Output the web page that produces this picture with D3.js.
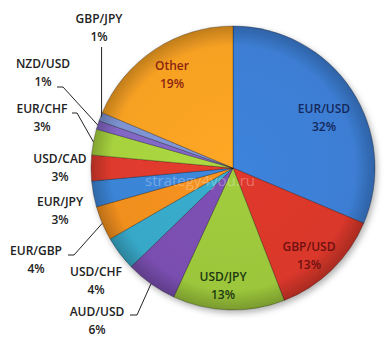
<!DOCTYPE html>
<html>
<head>
<meta charset="utf-8">
<script src="https://cdn.jsdelivr.net/npm/d3@7"></script>
<style>
  body { margin: 0; background: #fff; }
  svg { display: block; }
</style>
</head>
<body>
<div id="chart"></div>
<script>
const WIDTH = 389;
const HEIGHT = 352;
const CX = 233;
const CY = 168;
const RADIUS = 142;

// data
const pairs = ["EUR/USD", "GBP/USD", "USD/JPY", "AUD/USD", "USD/CHF", "EUR/GBP",
  "EUR/JPY", "USD/CAD", "EUR/CHF", "NZD/USD", "GBP/JPY", "Other"];
const shares = [32, 13, 13, 6, 4, 4, 3, 3, 3, 1, 1, 19];
const colors = ["#3c7ed4", "#d9372b", "#9cc63b", "#7a4eb0", "#37a8c8", "#f08f1f",
  "#3b84d6", "#de3a2d", "#a7d23e", "#8266c4", "#7d93d2", "#f7a124"];

// label layout: x centre, first baseline, inside flag, elbow for leader
const labelLayout = [
  { x: 324, y: 113, inside: true, fill: "#15285a" },
  { x: 309, y: 251, inside: true, fill: "#6e1010" },
  { x: 223, y: 281, inside: true, fill: "#1b3810" },
  { x: 97, y: 316, elbow: [137, 315], end: [130, 315] },
  { x: 96, y: 276 },
  { x: 36, y: 255, elbow: [74, 255], end: [68, 255] },
  { x: 60, y: 206 },
  { x: 60, y: 163 },
  { x: 42, y: 113, elbow: [77, 113], end: [72, 113] },
  { x: 43, y: 68, elbow: [63, 87], end: [57, 87] },
  { x: 99, y: 23, vertical: true },
  { x: 172, y: 70, inside: true, fill: "#8a2410" }
];

const svg = d3.select("#chart")
  .append("svg")
  .attr("width", WIDTH)
  .attr("height", HEIGHT);

const defs = svg.append("defs");

const shadow = defs.append("filter")
  .attr("id", "shadow")
  .attr("x", "-20%").attr("y", "-20%")
  .attr("width", "140%").attr("height", "140%");
shadow.append("feDropShadow")
  .attr("dx", 2).attr("dy", 3)
  .attr("stdDeviation", 3)
  .attr("flood-color", "#000")
  .attr("flood-opacity", 0.3);

colors.forEach((c, i) => {
  const g = defs.append("radialGradient")
    .attr("id", "grad" + i)
    .attr("gradientUnits", "userSpaceOnUse")
    .attr("cx", 0).attr("cy", 0).attr("r", RADIUS);
  g.append("stop").attr("offset", "0%").attr("stop-color", d3.color(c).brighter(0.1));
  g.append("stop").attr("offset", "86%").attr("stop-color", c);
  g.append("stop").attr("offset", "100%").attr("stop-color", d3.color(c).darker(0.7));
});

const pie = d3.pie().sort(null).value(d => d);
const arcs = pie(shares);

const arc = d3.arc().innerRadius(0).outerRadius(RADIUS);
const rimArc = d3.arc().innerRadius(RADIUS).outerRadius(RADIUS);

const chart = svg.append("g")
  .attr("transform", `translate(${CX}, ${CY})`);

chart.append("g")
  .attr("filter", "url(#shadow)")
  .selectAll("path")
  .data(arcs)
  .enter()
  .append("path")
  .attr("d", arc)
  .attr("fill", (d, i) => `url(#grad${i})`)
  .attr("stroke", "rgba(0,0,0,0.35)")
  .attr("stroke-width", 0.8);

// watermark
svg.append("text")
  .attr("x", 200)
  .attr("y", 186)
  .attr("text-anchor", "middle")
  .style("font-family", "'Open Sans', sans-serif")
  .style("font-size", "15px")
  .style("fill", "rgba(255,255,255,0.3)")
  .text("strategy4you.ru");

// leader lines
arcs.forEach((d, i) => {
  const lay = labelLayout[i];
  if (lay.inside) return;
  if (!lay.elbow && !lay.vertical) return;
  const p = rimArc.centroid({ startAngle: (d.startAngle + d.endAngle) / 2, endAngle: (d.startAngle + d.endAngle) / 2 });
  const px = CX + p[0];
  const py = CY + p[1];
  let pts;
  if (lay.vertical) {
    pts = [[px + 1, py], [px + 1, lay.y + 24]];
  } else {
    pts = [[px, py], lay.elbow, lay.end];
  }
  svg.append("path")
    .attr("d", d3.line()(pts))
    .attr("fill", "none")
    .attr("stroke", "#222")
    .attr("stroke-width", 1);
});

// labels
arcs.forEach((d, i) => {
  const lay = labelLayout[i];
  const t = svg.append("text")
    .attr("text-anchor", "middle")
    .style("font-family", "'Open Sans', sans-serif")
    .style("font-size", "12px")
    .style("font-weight", 600)
    .style("fill", lay.fill || "#222");
  t.append("tspan")
    .attr("x", lay.x)
    .attr("y", lay.y)
    .text(pairs[i]);
  t.append("tspan")
    .attr("x", lay.x)
    .attr("y", lay.y + 18)
    .text(shares[i] + "%");
});
</script>
</body>
</html>
